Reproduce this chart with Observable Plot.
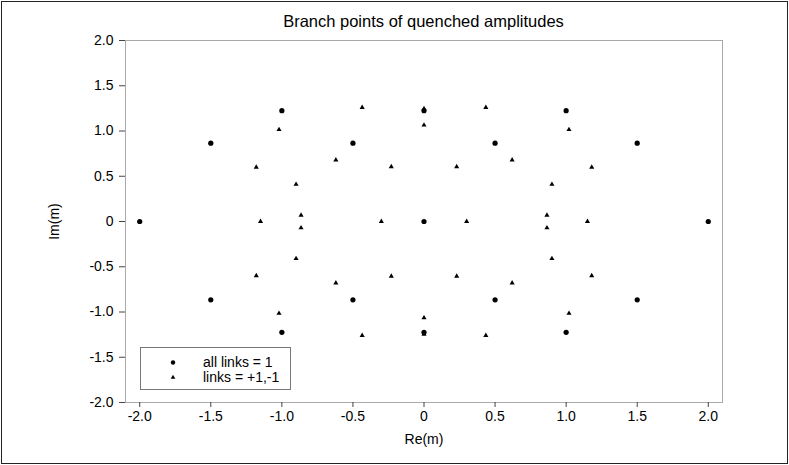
<!DOCTYPE html>
<html><head><meta charset="utf-8">
<script src="https://cdn.jsdelivr.net/npm/d3@7"></script>
<script src="https://cdn.jsdelivr.net/npm/@observablehq/plot@0.6"></script>
<style>
body{margin:0;background:#fff;font-family:"Liberation Sans",Arial,sans-serif;}
#wrap{position:relative;width:789px;height:465px;overflow:hidden;background:#fff;}
#wrap svg.plot{position:absolute;left:0;top:0;}
#border{position:absolute;left:1px;top:1px;width:787px;height:463px;box-sizing:border-box;border:1px solid #222;pointer-events:none;}
#title{position:absolute;left:125px;top:11px;width:597px;text-align:center;font-size:16.5px;color:#000;line-height:20px;}
#legend{position:absolute;left:140px;top:347px;width:151px;height:43px;box-sizing:border-box;border:1px solid #777;background:#fff;}
#legend .row{position:absolute;left:0;height:16px;width:100%;font-size:14px;line-height:16px;}
#legend .row span{position:absolute;left:62px;top:0;}
#legend .row svg{position:absolute;left:24px;top:0;}
</style>
</head><body>
<div id="wrap">
  <div id="chart"></div>
  <div id="title">Branch points of quenched amplitudes</div>
  <div id="legend"></div>
  <div id="border"></div>
</div>
<script>
// Series 1: "all links = 1"
const circleRe = [-2, -1.5, -1.5, -1, -1, -0.5, -0.5, 0, 0, 0, 0.5, 0.5, 1, 1, 1.5, 1.5, 2];
const circleIm = [0, 0.866, -0.866, 1.225, -1.225, 0.866, -0.866, 0, 1.225, -1.225, 0.866, -0.866, 1.225, -1.225, 0.866, -0.866, 0];
// Series 2: "links = +1,-1"
const triRe = [-1.18, -1.18, 1.18, 1.18, -1.02, -1.02, 1.02, 1.02, -1.15, 1.15,
  -0.90, -0.90, 0.90, 0.90, -0.865, -0.865, 0.865, 0.865, -0.62, -0.62, 0.62, 0.62,
  -0.435, -0.435, 0.435, 0.435, -0.23, -0.23, 0.23, 0.23, -0.30, 0.30, 0, 0, 0, 0];
const triIm = [0.60, -0.60, 0.60, -0.60, 1.015, -1.015, 1.015, -1.015, 0, 0,
  0.41, -0.41, 0.41, -0.41, 0.07, -0.07, 0.07, -0.07, 0.68, -0.68, 0.68, -0.68,
  1.26, -1.26, 1.26, -1.26, 0.605, -0.605, 0.605, -0.605, 0, 0, 1.065, -1.065, 1.245, -1.245];
const xTicks = [-2.0, -1.5, -1.0, -0.5, 0, 0.5, 1.0, 1.5, 2.0];
const yTicks = [-2.0, -1.5, -1.0, -0.5, 0, 0.5, 1.0, 1.5, 2.0];
const seriesNames = ["all links = 1", "links = +1,-1"];

const circles = circleRe.map((re, i) => ({re, im: circleIm[i]}));
const tris = triRe.map((re, i) => ({re, im: triIm[i]}));
const fmt = d => d === 0 ? "0" : d.toFixed(1);

const CIRCLE_R = 2.6, TRI_R = 1.9;

const plot = Plot.plot({
  width: 789, height: 465,
  marginTop: 40, marginRight: 67, marginBottom: 63, marginLeft: 125,
  style: {fontFamily: '"Liberation Sans", Arial, sans-serif', fontSize: "14px", background: "transparent"},
  x: {domain: [-2.1, 2.1]},
  y: {domain: [-2, 2]},
  marks: [
    Plot.frame({stroke: "#aaa"}),
    Plot.axisX({ticks: xTicks, tickFormat: fmt, tickSize: 5, tickPadding: 4, stroke: "#444", fill: "#000",
      fontSize: 14, label: "Re(m)", labelAnchor: "center", labelOffset: 41, labelArrow: "none"}),
    Plot.axisY({ticks: yTicks, tickFormat: fmt, tickSize: 6, tickPadding: 6, stroke: "#444", fill: "#000",
      fontSize: 14, label: "Im(m)", labelAnchor: "center", labelOffset: 76, labelArrow: "none"}),
    Plot.dot(circles, {x: "re", y: "im", r: CIRCLE_R, fill: "#000"}),
    Plot.dot(tris, {x: "re", y: "im", r: TRI_R, symbol: "triangle", fill: "#000"})
  ]
});
document.getElementById("chart").appendChild(plot);

// legend
const legend = document.getElementById("legend");
const symbols = [d3.symbolCircle, d3.symbolTriangle];
const radii = [2.2, 1.7];
seriesNames.forEach((name, i) => {
  const row = document.createElement("div");
  row.className = "row";
  row.style.top = (6 + i * 15) + "px";
  const size = Math.PI * radii[i] * radii[i];
  row.innerHTML = `<svg width="16" height="16"><path transform="translate(8,8.5)" d="${d3.symbol(symbols[i], size)()}" fill="#000"/></svg><span>${name}</span>`;
  legend.appendChild(row);
});
</script>
</body></html>
